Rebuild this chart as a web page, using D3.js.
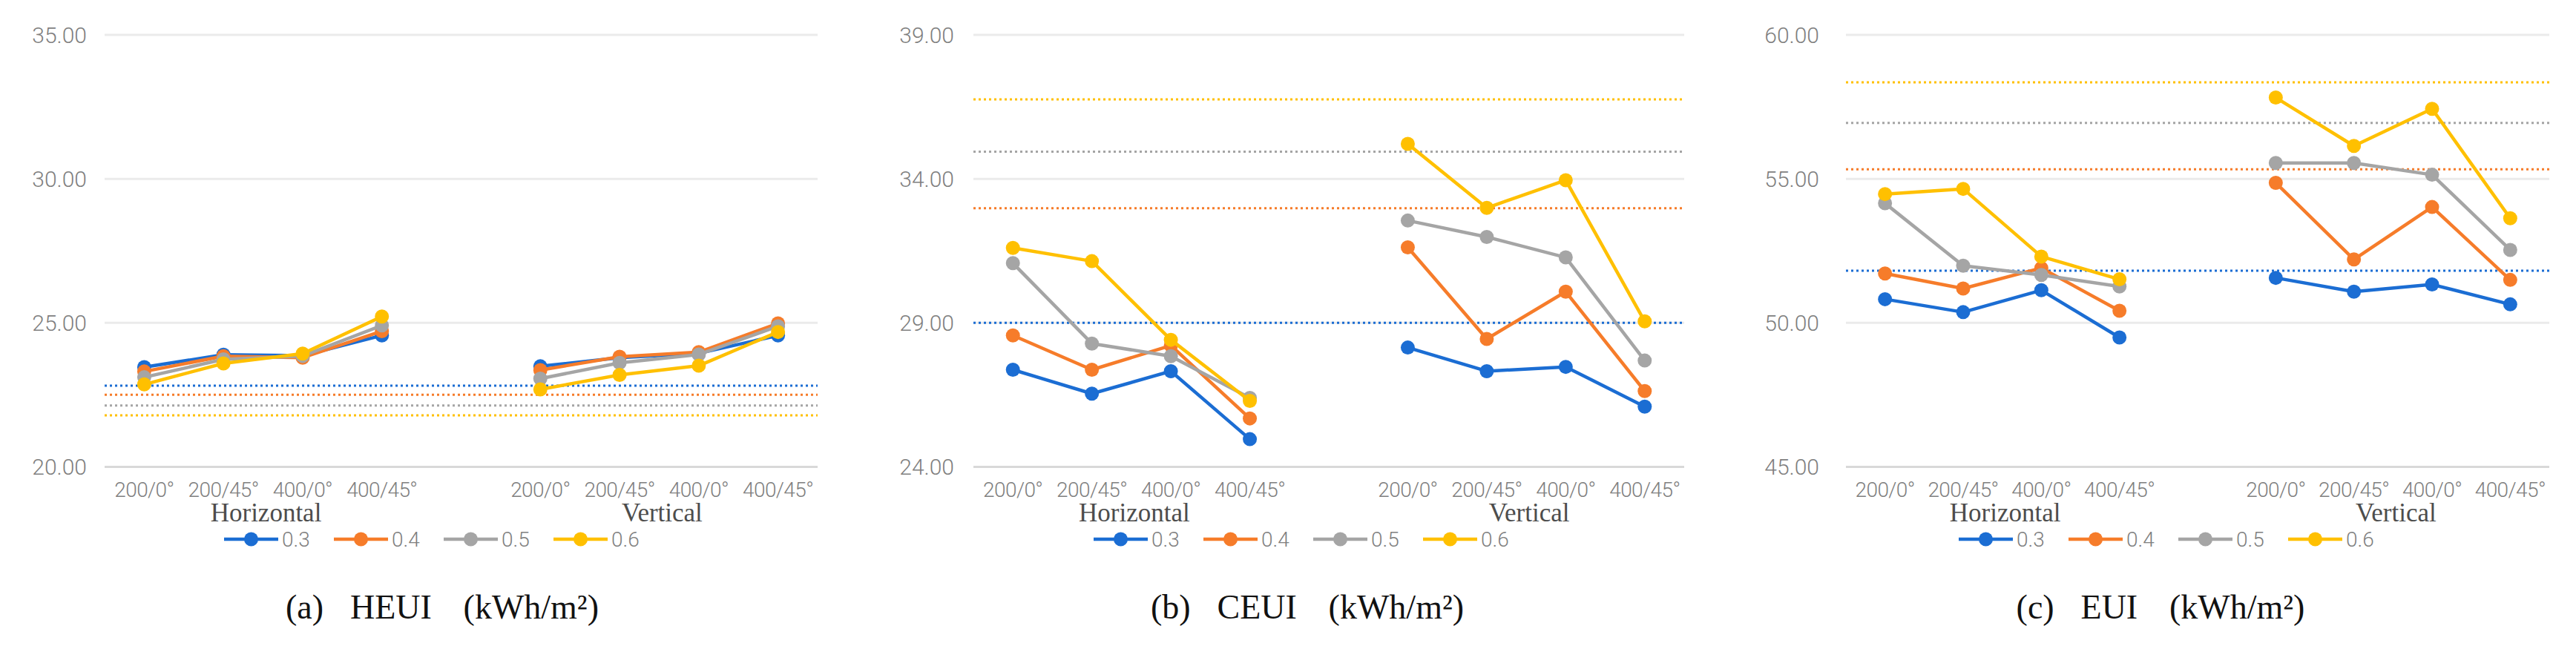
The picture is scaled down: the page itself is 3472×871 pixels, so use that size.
<!DOCTYPE html>
<html>
<head>
<meta charset="utf-8">
<script src="https://cdn.jsdelivr.net/npm/d3@7"></script>
<style>
  html, body { margin: 0; padding: 0; background: #ffffff; }
  svg { display: block; }
</style>
</head>
<body>
<svg id="chart" width="3472" height="871"></svg>
<script>
// ---------------- DATA ----------------
const categories = ["200/0°", "200/45°", "400/0°", "400/45°"];
const groups = ["Horizontal", "Vertical"];
const seriesNames = ["0.3", "0.4", "0.5", "0.6"];

// each row: one series; first 4 = Horizontal, last 4 = Vertical
const heuiValues = [
  [23.45, 23.88, 23.85, 24.55, 23.48, 23.78, 23.93, 24.55],
  [23.30, 23.83, 23.78, 24.70, 23.35, 23.81, 23.97, 24.97],
  [23.10, 23.72, 23.84, 24.90, 23.05, 23.60, 23.89, 24.87],
  [22.85, 23.58, 23.92, 25.21, 22.68, 23.18, 23.50, 24.67]
];
const ceuiValues = [
  [27.36, 26.53, 27.31, 24.95, 28.13, 27.31, 27.46, 26.08],
  [28.55, 27.36, 28.20, 25.67, 31.61, 28.43, 30.07, 26.62],
  [31.06, 28.27, 27.83, 26.38, 32.54, 31.97, 31.26, 27.68],
  [31.59, 31.13, 28.40, 26.28, 35.20, 32.98, 33.94, 29.04]
];
const euiValues = [
  [50.81, 50.36, 51.12, 49.48, 51.55, 51.07, 51.32, 50.63],
  [51.70, 51.18, 51.89, 50.41, 54.85, 52.19, 54.01, 51.48],
  [54.14, 51.97, 51.65, 51.25, 55.54, 55.54, 55.13, 52.52],
  [54.46, 54.64, 52.29, 51.50, 57.81, 56.13, 57.42, 53.62]
];

// baseline (dotted) reference values per series
const heuiRef = [22.81, 22.49, 22.12, 21.78];
const ceuiRef = [28.99, 32.97, 34.93, 36.75];
const euiRef  = [51.80, 55.32, 56.93, 58.34];

const heuiTicks = [20, 25, 30, 35];
const ceuiTicks = [24, 29, 34, 39];
const euiTicks  = [45, 50, 55, 60];

const captionLetters = ["(a)", "(b)", "(c)"];
const captionNames = ["HEUI", "CEUI", "EUI"];
const captionUnit = "(kWh/m²)";

// ---------------- STYLE / LAYOUT ----------------
const colors = ["#1b6dd3", "#f67c2a", "#a5a5a5", "#ffc000"];
const sansFont = "Roboto, 'Liberation Sans', Arial, sans-serif";
const serifFont = "'Liberation Serif', 'Times New Roman', serif";
const yTop = 46.5, yBottom = 629;

const panels = [
  { values: heuiValues, ref: heuiRef, ticks: heuiTicks, x0: 141, x1: 1102, labelRight: 117, legendX: 302, capX: 596 },
  { values: ceuiValues, ref: ceuiRef, ticks: ceuiTicks, x0: 1312, x1: 2270, labelRight: 1286, legendX: 1474, capX: 1762 },
  { values: euiValues,  ref: euiRef,  ticks: euiTicks,  x0: 2488, x1: 3436, labelRight: 2452, legendX: 2640, capX: 2912 }
];

const svg = d3.select("#chart");
svg.append("rect").attr("width", 3472).attr("height", 871).attr("fill", "#ffffff");

// slot keys: 4 horizontal + blank + 4 vertical
const slotKeys = [];
groups.forEach((g, gi) => {
  categories.forEach(c => slotKeys.push(g + "|" + c));
  if (gi === 0) slotKeys.push("gap");
});

panels.forEach((p, pi) => {
  const g = svg.append("g");
  const x = d3.scaleBand().domain(slotKeys).range([p.x0, p.x1]).padding(0);
  const cx = k => x(k) + x.bandwidth() / 2;
  const y = d3.scaleLinear().domain([p.ticks[0], p.ticks[p.ticks.length - 1]]).range([yBottom, yTop]);

  // gridlines + y labels via axis
  const yAxis = d3.axisLeft(y).tickValues(p.ticks).tickFormat(d3.format(".2f"))
    .tickSize(-(p.x1 - p.x0)).tickPadding(p.x0 - p.labelRight);
  const ya = g.append("g").attr("transform", `translate(${p.x0},0)`).call(yAxis);
  ya.select(".domain").remove();
  ya.selectAll(".tick line").attr("stroke", (d, i) => i === 0 ? "#d9d9d9" : "#ebebeb").attr("stroke-width", 3);
  ya.selectAll(".tick text").attr("fill", "#7f7f7f").attr("font-family", sansFont)
    .attr("font-size", 30).attr("font-weight", 300).attr("dy", "0.36em");

  // x axis labels
  const xAxis = d3.axisBottom(x).tickSize(0).tickPadding(0)
    .tickFormat(k => k === "gap" ? "" : k.split("|")[1]);
  const xa = g.append("g").attr("transform", `translate(0,${yBottom})`).call(xAxis);
  xa.select(".domain").remove();
  xa.selectAll(".tick text").attr("y", 41).attr("dy", 0).attr("fill", "#7f7f7f")
    .attr("font-family", sansFont).attr("font-size", 28).attr("font-weight", 300)
    .attr("letter-spacing", -0.6);

  // group labels
  groups.forEach(gr => {
    const keys = categories.map(c => gr + "|" + c);
    const mid = (cx(keys[0]) + cx(keys[keys.length - 1])) / 2 + 4;
    g.append("text").attr("x", mid).attr("y", 703).attr("text-anchor", "middle")
      .attr("font-family", serifFont).attr("font-size", 35).attr("fill", "#4d4d4d").text(gr);
  });

  // dotted reference lines
  p.ref.forEach((v, si) => {
    g.append("line").attr("x1", p.x0).attr("x2", p.x1).attr("y1", y(v)).attr("y2", y(v))
      .attr("stroke", colors[si]).attr("stroke-width", 3).attr("stroke-dasharray", "3,4");
  });

  // series
  const line = d3.line().x(d => cx(d.k)).y(d => y(d.v));
  p.values.forEach((row, si) => {
    groups.forEach((gr, gi) => {
      const pts = categories.map((c, ci) => ({ k: gr + "|" + c, v: row[gi * 4 + ci] }));
      g.append("path").datum(pts).attr("d", line).attr("fill", "none")
        .attr("stroke", colors[si]).attr("stroke-width", 4.5).attr("stroke-linejoin", "round");
      g.selectAll(null).data(pts).enter().append("circle")
        .attr("cx", d => cx(d.k)).attr("cy", d => y(d.v)).attr("r", 9.5).attr("fill", colors[si]);
    });
  });

  // legend
  seriesNames.forEach((s, si) => {
    const lx = p.legendX + si * 148;
    const ly = 727;
    g.append("line").attr("x1", lx).attr("x2", lx + 73).attr("y1", ly).attr("y2", ly)
      .attr("stroke", colors[si]).attr("stroke-width", 4.5);
    g.append("circle").attr("cx", lx + 36.5).attr("cy", ly).attr("r", 9.5).attr("fill", colors[si]);
    g.append("text").attr("x", lx + 78).attr("y", ly).attr("dy", "0.36em")
      .attr("font-family", sansFont).attr("font-size", 28).attr("font-weight", 300)
      .attr("fill", "#7f7f7f").text(s);
  });

  // caption
  const cap = g.append("text").attr("x", p.capX).attr("y", 834).attr("text-anchor", "middle")
    .attr("font-family", serifFont).attr("font-size", 46).attr("fill", "#111111");
  cap.append("tspan").text(captionLetters[pi]);
  cap.append("tspan").attr("dx", "0.78em").text(captionNames[pi]);
  cap.append("tspan").attr("dx", "0.93em").text(captionUnit);
});
</script>
</body>
</html>
